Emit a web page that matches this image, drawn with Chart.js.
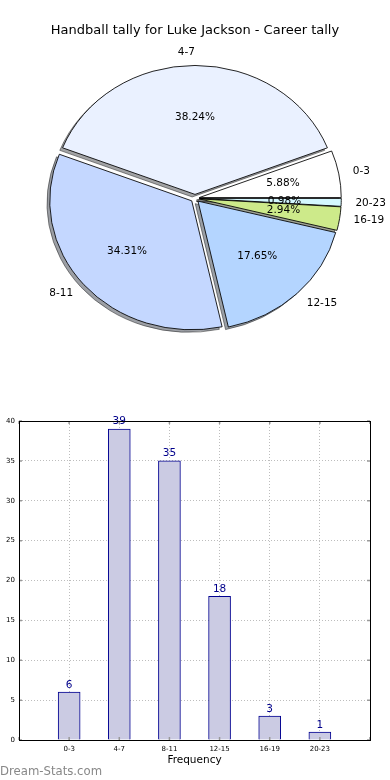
<!DOCTYPE html>
<html>
<head>
<meta charset="utf-8">
<script src="https://cdn.jsdelivr.net/npm/chart.js@4.4.1/dist/chart.umd.min.js"></script>
<style>
  body { margin: 0; background: #fff; width: 390px; height: 780px; overflow: hidden; position: relative; }
  #pieChart { position: absolute; left: 0; top: 0; }
  #barChart { position: absolute; left: 0; top: 400px; }
  #mark { position: absolute; left: 0; top: 764px; font: 11.7px "DejaVu Sans", sans-serif; color: #888; }
</style>
</head>
<body>
<canvas id="pieChart" width="390" height="358"></canvas>
<canvas id="barChart" width="390" height="380"></canvas>
<div id="mark">Dream-Stats.com</div>
<script>
// data
const categories = ["0-3", "4-7", "8-11", "12-15", "16-19", "20-23"];
const counts = [6, 39, 35, 18, 3, 1];
const chartTitle = "Handball tally for Luke Jackson - Career tally";
const xTitle = "Frequency";

// looks
const sliceColors = ["#ffffff", "#eaf1ff", "#c4d7ff", "#b4d5ff", "#cdea8a", "#d4f8ff"];
const explodePx = 4.3;
const pieSquash = 0.908;
const font = "'DejaVu Sans', sans-serif";

const total = counts.reduce((a, b) => a + b, 0);
const pctLabels = counts.map(v => (v / total * 100).toFixed(2) + "%");

// chart.js runs clockwise, matplotlib counter-clockwise -> reverse and start at 3 o'clock
const rev = a => a.slice().reverse();
const revCats = rev(categories), revPct = rev(pctLabels);

function drawArcAt(ctx, arc, sx, sy) {
  const mid = (arc.startAngle + arc.endAngle) / 2;
  ctx.save();
  ctx.translate(Math.cos(mid) * explodePx + sx, Math.sin(mid) * explodePx + sy);
  arc.draw(ctx);
  ctx.restore();
}

const pieLook = {
  id: "pieLook",
  beforeDatasetDraw(chart, args) {
    const ctx = chart.ctx;
    const arcs = args.meta.data;
    const cx = arcs[0].x, cy = arcs[0].y;
    ctx.save();
    ctx.translate(cx, cy);
    ctx.scale(1, pieSquash);
    ctx.translate(-cx, -cy);
    // shadows under everything
    ctx.save();
    ctx.filter = "brightness(0.3)";
    ctx.globalAlpha = 0.5;
    arcs.forEach(arc => drawArcAt(ctx, arc, -2.8, 2.8));
    ctx.restore();
    arcs.forEach(arc => drawArcAt(ctx, arc, 0, 0));
    ctx.restore();
    return false;
  },
  afterDatasetsDraw(chart) {
    const ctx = chart.ctx;
    const arcs = chart.getDatasetMeta(0).data;
    ctx.save();
    ctx.fillStyle = "#000";
    ctx.font = "10.5px " + font;
    ctx.textBaseline = "middle";
    arcs.forEach((arc, i) => {
      const mid = (arc.startAngle + arc.endAngle) / 2;
      const c = Math.cos(mid), s = Math.sin(mid);
      const R = arc.outerRadius;
      const lx = arc.x + (explodePx + 1.1 * R) * c;
      const ly = arc.y + (explodePx + 1.1 * R) * s * pieSquash;
      ctx.textAlign = c > 1e-6 ? "left" : "right";
      ctx.fillText(revCats[i], lx, ly);
      const px = arc.x + (explodePx + 0.6 * R) * c;
      const py = arc.y + (explodePx + 0.6 * R) * s * pieSquash;
      ctx.textAlign = "center";
      ctx.fillText(revPct[i], px, py);
    });
    ctx.restore();
  }
};

new Chart(document.getElementById("pieChart"), {
  type: "pie",
  data: {
    labels: revCats,
    datasets: [{
      data: rev(counts),
      backgroundColor: rev(sliceColors),
      borderColor: "#000",
      borderWidth: 0.9
    }]
  },
  options: {
    responsive: false,
    animation: false,
    rotation: 90,
    radius: 142,
    plugins: {
      legend: { display: false },
      tooltip: { enabled: false },
      title: {
        display: true,
        text: chartTitle,
        color: "#000",
        font: { family: font, size: 13, weight: "normal" },
        padding: { top: 23, bottom: 0 }
      }
    }
  },
  plugins: [pieLook]
});

// bar chart
const barLook = {
  id: "barLook",
  afterDatasetsDraw(chart) {
    const ctx = chart.ctx;
    ctx.save();
    ctx.fillStyle = "#00008b";
    ctx.font = "10.5px " + font;
    ctx.textAlign = "center";
    ctx.textBaseline = "bottom";
    chart.getDatasetMeta(0).data.forEach((bar, i) => {
      const v = chart.data.datasets[0].data[i];
      if (v == null) return;
      ctx.fillText(String(v), bar.x, bar.y - 2);
    });
    ctx.restore();
  },
  afterDraw(chart) {
    const ctx = chart.ctx;
    const a = chart.chartArea;
    const xs = chart.scales.x, ys = chart.scales.y;
    ctx.save();
    ctx.strokeStyle = "#999";
    ctx.lineWidth = 1.5;
    ctx.beginPath();
    xs.ticks.forEach((t, i) => {
      const x = xs.getPixelForTick(i);
      ctx.moveTo(x, a.top); ctx.lineTo(x, a.top + 3);
      ctx.moveTo(x, a.bottom); ctx.lineTo(x, a.bottom - 3);
    });
    ys.ticks.forEach(t => {
      const y = ys.getPixelForValue(t.value);
      ctx.moveTo(a.left, y); ctx.lineTo(a.left + 3, y);
      ctx.moveTo(a.right, y); ctx.lineTo(a.right - 3, y);
    });
    ctx.stroke();
    ctx.strokeStyle = "#000";
    ctx.lineWidth = 1;
    ctx.strokeRect(Math.round(a.left) + 0.5, Math.round(a.top) + 0.5,
      Math.round(a.right - a.left), Math.round(a.bottom - a.top));
    ctx.restore();
  }
};

new Chart(document.getElementById("barChart"), {
  type: "bar",
  data: {
    labels: ["", ...categories, ""],
    datasets: [{
      data: [null, ...counts, null],
      backgroundColor: "#cbcbe3",
      borderColor: "#000090",
      borderWidth: 1,
      barThickness: 22
    }]
  },
  options: {
    responsive: false,
    animation: false,
    layout: { padding: { top: 21, right: 20, left: 0, bottom: 0 } },
    plugins: { legend: { display: false }, tooltip: { enabled: false } },
    scales: {
      x: {
        offset: false,
        z: 1,
        grid: { offset: false, color: "#bdbdbd", drawTicks: false, lineWidth: 1 },
        border: { display: false, dash: [1, 2] },
        ticks: { color: "#000", font: { family: font, size: 7 }, padding: 5, maxRotation: 0, autoSkip: false },
        title: { display: true, text: xTitle, color: "#000", font: { family: font, size: 10.5 }, padding: { top: 0, bottom: 13.7 } },
        afterFit: s => { s.height = 40; }
      },
      y: {
        min: 0,
        max: 40,
        z: 1,
        grid: { color: "#bdbdbd", drawTicks: false, lineWidth: 1 },
        border: { display: false, dash: [1, 2] },
        ticks: { stepSize: 5, color: "#000", font: { family: font, size: 7 }, padding: 4 },
        afterFit: s => { s.width = 19; }
      }
    }
  },
  plugins: [barLook]
});
</script>
</body>
</html>
